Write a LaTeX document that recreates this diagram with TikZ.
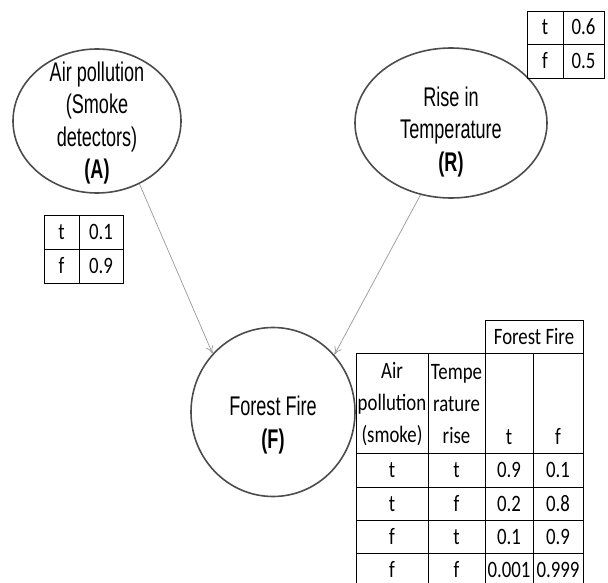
\documentclass[tikz,border=0pt]{standalone}
\usepackage{fontspec}
\newfontfamily\nodefont[FakeStretch=0.67]{Liberation Sans}
\newfontfamily\tabfont[FakeStretch=0.8]{Carlito}
\usetikzlibrary{arrows.meta,shapes.geometric}
\begin{document}
\begin{tikzpicture}[x=1pt,y=-1pt,
  var/.style={ellipse, draw=black!70, line width=1.6pt, inner sep=0pt},
  vtext/.style={font=\nodefont\fontsize{27}{32.5}\selectfont, align=center, inner sep=0pt},
  link/.style={draw=black!40, line width=0.7pt, -{To[length=8pt,width=8pt]}},
  grid/.style={draw=black, line width=0.8pt},
  cell/.style={font=\tabfont\fontsize{23.5}{32}\selectfont, inner sep=0pt, text height=15pt, text depth=0pt, anchor=center},
  mcell/.style={font=\tabfont\fontsize{23.5}{32}\selectfont, inner sep=0pt, align=center, anchor=center}
]
\useasboundingbox (0,0) rectangle (608,583);

% variables
\node[var, minimum width=168pt, minimum height=144pt] (A) at (97,121) {};
\node[vtext] (At) at (97,123) {Air pollution\\(Smoke\\detectors)\\\textbf{(A)}};
\node[var, minimum width=192pt, minimum height=150pt] (R) at (451,123) {};
\node[vtext] (Rt) at (451,132) {Rise in\\Temperature\\\textbf{(R)}};
\node[var, minimum width=164pt, minimum height=169pt] (F) at (273,412) {};
\node[vtext] (Ft) at (273,425) {Forest Fire\\\textbf{(F)}};

% dependencies
\draw[link] (A.304) -- (F.136.5);
\draw[link] (R.247) -- (F.43.5);

% prior of A
\draw[grid] (44,215) rectangle (123,283);
\draw[grid] (44,249) -- (123,249);
\draw[grid] (79,215) -- (79,283);
\node[cell] (a1) at (61.5,232) {t};
\node[cell] (a2) at (101,232) {0.1};
\node[cell] (a3) at (61.5,266) {f};
\node[cell] (a4) at (101,266) {0.9};

% prior of R
\draw[grid] (527,11) rectangle (604,78);
\draw[grid] (527,44) -- (604,44);
\draw[grid] (563,11) -- (563,78);
\node[cell] (r1) at (545,27.5) {t};
\node[cell] (r2) at (583.5,27.5) {0.6};
\node[cell] (r3) at (545,61) {f};
\node[cell] (r4) at (583.5,61) {0.5};

% conditional table of F
\draw[grid] (485,320) -- (583,320);
\draw[grid] (356,353) -- (583,353);
\draw[grid] (356,453) -- (583,453);
\draw[grid] (356,487) -- (583,487);
\draw[grid] (356,520) -- (583,520);
\draw[grid] (356,553) -- (583,553);
\draw[grid] (356,587) -- (583,587);
\draw[grid] (356,353) -- (356,587);
\draw[grid] (428,353) -- (428,587);
\draw[grid] (485,320) -- (485,587);
\draw[grid] (533,353) -- (533,587);
\draw[grid] (583,320) -- (583,587);

\node[cell] (hF) at (534,337) {Forest Fire};
\node[mcell] (h1) at (392,404) {Air\\pollution\\(smoke)};
\node[mcell] (h2) at (456.5,404) {Tempe\\rature\\rise};
\node[cell] (h3) at (509,437) {t};
\node[cell] (h4) at (558,437) {f};

\node[cell] (c11) at (392,470) {t};
\node[cell] (c12) at (456.5,470) {t};
\node[cell] (c13) at (509,470) {0.9};
\node[cell] (c14) at (558,470) {0.1};
\node[cell] (c21) at (392,503.5) {t};
\node[cell] (c22) at (456.5,503.5) {f};
\node[cell] (c23) at (509,503.5) {0.2};
\node[cell] (c24) at (558,503.5) {0.8};
\node[cell] (c31) at (392,537) {f};
\node[cell] (c32) at (456.5,537) {t};
\node[cell] (c33) at (509,537) {0.1};
\node[cell] (c34) at (558,537) {0.9};
\node[cell] (c41) at (392,570) {f};
\node[cell] (c42) at (456.5,570) {f};
\node[cell] (c43) at (509,570) {0.001};
\node[cell] (c44) at (558,570) {0.999};
\end{tikzpicture}
\end{document}
